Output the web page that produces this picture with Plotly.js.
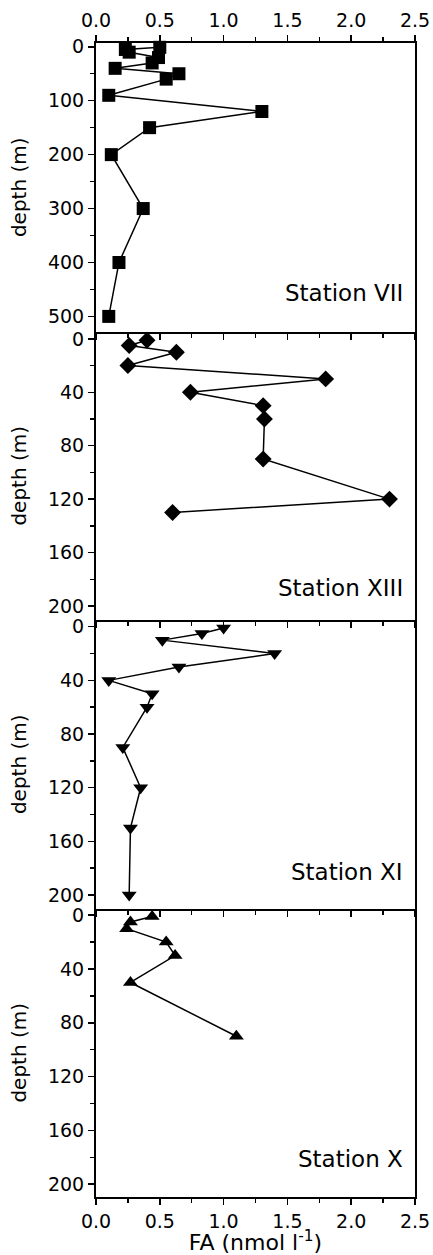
<!DOCTYPE html>
<html><head><meta charset="utf-8">
<script src="https://cdn.plot.ly/plotly-3.0.1.min.js"></script>
<style>body{margin:0;background:#fff}</style>
</head><body><div id="chart" style="width:433px;height:1255px"></div>
<script>
// Station VII
const depthVII = [1, 5, 10, 20, 30, 40, 50, 60, 90, 120, 150, 200, 300, 400, 500];
const faVII    = [0.50, 0.23, 0.26, 0.49, 0.44, 0.15, 0.65, 0.55, 0.10, 1.30, 0.42, 0.12, 0.37, 0.18, 0.10];
// Station XIII
const depthXIII = [1, 5, 10, 20, 30, 40, 50, 60, 90, 120, 130];
const faXIII    = [0.40, 0.26, 0.63, 0.25, 1.80, 0.74, 1.31, 1.32, 1.31, 2.30, 0.60];
// Station XI
const depthXI = [1, 5, 10, 20, 30, 40, 50, 60, 90, 120, 150, 200];
const faXI    = [1.00, 0.83, 0.52, 1.40, 0.65, 0.10, 0.44, 0.40, 0.21, 0.35, 0.27, 0.26];
// Station X
const depthX = [1, 5, 10, 20, 30, 50, 90];
const faX    = [0.44, 0.27, 0.24, 0.55, 0.62, 0.27, 1.10];

const stationNames = ['Station VII', 'Station XIII', 'Station XI', 'Station X'];
const xTitle = 'FA (nmol l<sup>-1</sup>)';
const yTitle = 'depth (m)';

const FONT = 'DejaVu Sans, Arial, sans-serif';
const series = [
  {x: faVII, y: depthVII, sym: 'square', size: 13},
  {x: faXIII, y: depthXIII, sym: 'diamond', size: 13},
  {x: faXI, y: depthXI, sym: 'triangle-down', size: 13},
  {x: faX, y: depthX, sym: 'triangle-up', size: 13}
];
const traces = series.map((s, i) => ({
  type: 'scatter', mode: 'lines+markers',
  x: s.x, y: s.y,
  xaxis: i === 0 ? 'x' : 'x' + (i + 1),
  yaxis: i === 0 ? 'y' : 'y' + (i + 1),
  line: {color: '#000', width: 1.5},
  marker: {symbol: s.sym, size: s.size, color: '#000'},
  showlegend: false, cliponaxis: false
}));

const domains = [[0.75, 1], [0.5, 0.75], [0.25, 0.5], [0, 0.25]];
const yRanges = [[528, -7], [210.5, -5.5], [210, -5], [209.5, -5]];
const yDt = [100, 40, 40, 40];

const layout = {
  width: 433, height: 1255,
  margin: {l: 96, r: 18, t: 43, b: 58},
  paper_bgcolor: '#fff', plot_bgcolor: '#fff',
  font: {family: FONT, color: '#000', size: 19},
  showlegend: false,
  annotations: []
};

for (let i = 0; i < 4; i++) {
  const xs = i === 0 ? 'xaxis' : 'xaxis' + (i + 1);
  const ys = i === 0 ? 'yaxis' : 'yaxis' + (i + 1);
  const yid = i === 0 ? 'y' : 'y' + (i + 1);
  const xid = i === 0 ? 'x' : 'x' + (i + 1);
  layout[xs] = {
    domain: [0, 1], anchor: yid, range: [0, 2.5], dtick: 0.5, tick0: 0,
    tickformat: '.1f', side: i === 0 ? 'top' : 'bottom',
    showticklabels: i === 0 || i === 3,
    ticks: 'outside', ticklen: 6, tickwidth: 1.5, tickcolor: '#000',
    minor: {dtick: 0.25, ticks: 'outside', ticklen: 4, tickwidth: 1.5, tickcolor: '#000'},
    showline: true, linewidth: 2, linecolor: '#000',
    mirror: i === 0 ? 'ticks' : false,
    showgrid: false, zeroline: false,
    tickfont: {family: FONT, size: 19, color: '#000'}
  };
  if (i === 3) {
    layout[xs].title = {text: xTitle, font: {family: FONT, size: 22, color: '#000'}, standoff: 4};
  }
  layout[ys] = {
    domain: domains[i], anchor: xid, range: yRanges[i], dtick: yDt[i], tick0: 0,
    ticks: 'outside', ticklen: 6, tickwidth: 1.5, tickcolor: '#000',
    minor: {dtick: yDt[i] / 2, ticks: 'outside', ticklen: 4, tickwidth: 1.5, tickcolor: '#000'},
    showline: true, linewidth: 2, linecolor: '#000', mirror: true,
    showgrid: false, zeroline: false,
    tickfont: {family: FONT, size: 19, color: '#000'},
    title: {text: yTitle, font: {family: FONT, size: 20, color: '#000'}, standoff: 16}
  };
  layout.annotations.push({
    text: stationNames[i], xref: xid + ' domain', yref: yid + ' domain',
    x: 0.969, y: [0.133, 0.112, 0.125, 0.133][i],
    xanchor: 'right', yanchor: 'middle', showarrow: false,
    font: {family: FONT, size: 23, color: '#000'}
  });
}

Plotly.newPlot('chart', traces, layout, {staticPlot: true, displayModeBar: false});
</script>
</body></html>
